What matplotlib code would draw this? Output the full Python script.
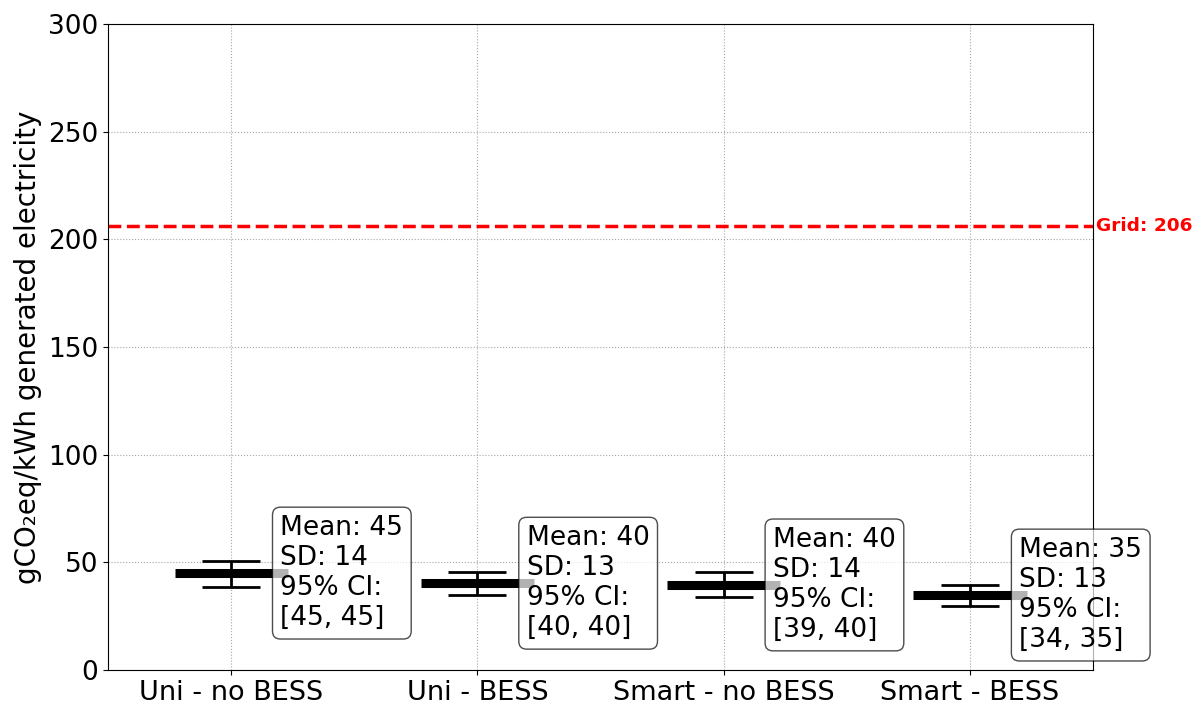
import numpy as np
import matplotlib

matplotlib.use("Agg")
import matplotlib.pyplot as plt

# scenario data
categories = ["Uni - no BESS", "Uni - BESS", "Smart - no BESS", "Smart - BESS"]
means = [45.0, 40.3, 39.5, 34.8]
lower = [38.6, 34.8, 34.0, 29.7]
upper = [50.7, 45.5, 45.5, 39.5]
mean_lbl = [45, 40, 40, 35]
sd_lbl = [14, 13, 14, 13]
ci_lbl = [(45, 45), (40, 40), (39, 40), (34, 35)]
grid_value = 206

fig, ax = plt.subplots(figsize=(12, 7.06), dpi=100)
x = np.arange(len(categories))

# thick mean bar
ax.hlines(means, x - 0.23, x + 0.23, colors="black", linewidth=6.5, zorder=3)

# error bars
yerr = [np.array(means) - np.array(lower), np.array(upper) - np.array(means)]
ax.errorbar(x, means, yerr=yerr, fmt="none", ecolor="black",
            elinewidth=2, capsize=21, capthick=2, zorder=4)

for i in range(len(categories)):
    txt = f"Mean: {mean_lbl[i]}\nSD: {sd_lbl[i]}\n95% CI:\n[{ci_lbl[i][0]}, {ci_lbl[i][1]}]"
    ax.text(x[i] + 0.2, means[i], txt, fontsize=19, va="center", ha="left",
            zorder=5, clip_on=False,
            bbox=dict(boxstyle="round,pad=0.3", facecolor="white",
                      edgecolor="black", alpha=0.7))

# grid reference line
ax.axhline(grid_value, color="red", linestyle="--", linewidth=2.5, zorder=2)
ax.text(3.51, grid_value, f"Grid: {grid_value}", color="red", fontweight="bold",
        fontsize=13.3, va="center", ha="left")

ax.set_xlim(-0.5, 3.5)
ax.set_ylim(0, 300)
ax.set_xticks(x)
ax.set_xticklabels(categories, fontsize=19.5)
ax.tick_params(axis="y", labelsize=19)
ax.set_ylabel("gCO\u2082eq/kWh generated electricity", fontsize=20)
ax.grid(True, linestyle=":", color="grey", alpha=0.7)
ax.set_axisbelow(True)

fig.subplots_adjust(left=0.09, right=0.911, top=0.966, bottom=0.051)
fig.savefig("out.png")
